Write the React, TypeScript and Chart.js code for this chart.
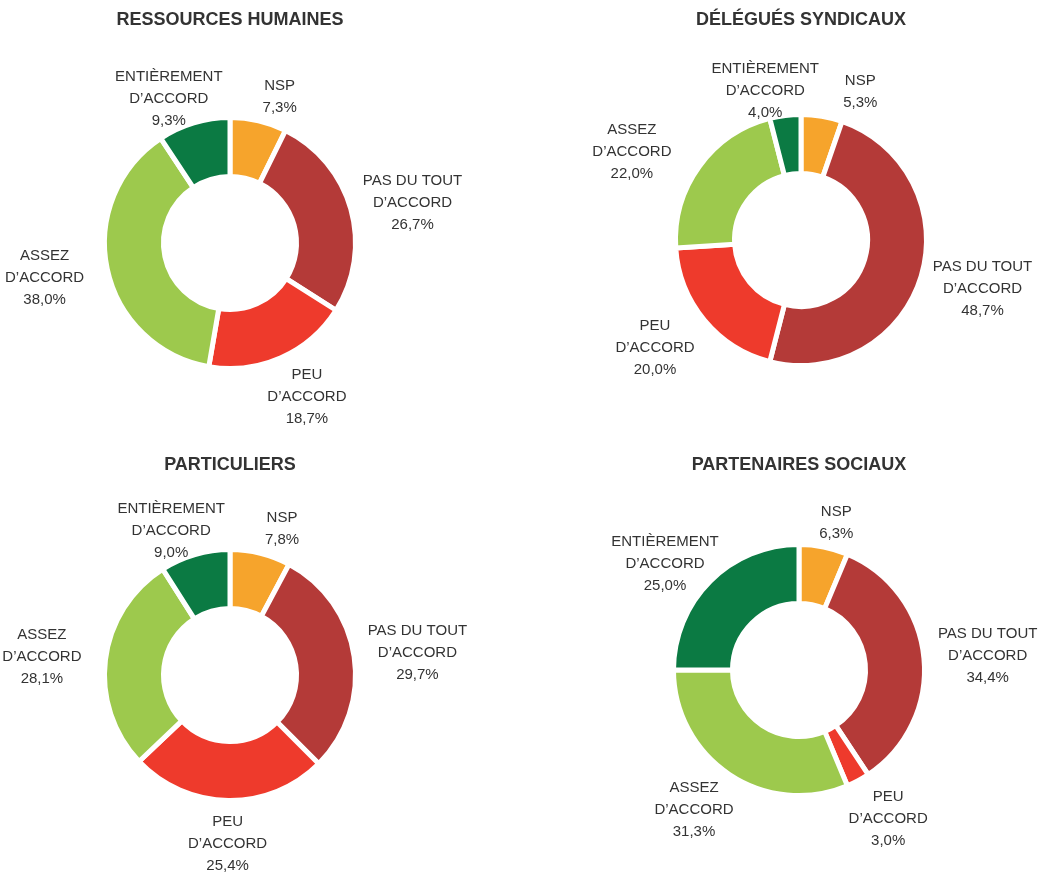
import React, { useEffect, useRef } from "react";
import { Chart, registerables } from "chart.js";

Chart.register(...registerables);

// ---- Data ----
const categories = [
  "NSP",
  "PAS DU TOUT\nD’ACCORD",
  "PEU\nD’ACCORD",
  "ASSEZ\nD’ACCORD",
  "ENTIÈREMENT\nD’ACCORD",
];
const titles = [
  "RESSOURCES HUMAINES",
  "DÉLÉGUÉS SYNDICAUX",
  "PARTICULIERS",
  "PARTENAIRES SOCIAUX",
];
const rhValues = [7.3, 26.7, 18.7, 38.0, 9.3];
const dsValues = [5.3, 48.7, 20.0, 22.0, 4.0];
const particuliersValues = [7.8, 29.7, 25.4, 28.1, 9.0];
const partenairesValues = [6.3, 34.4, 3.0, 31.3, 25.0];
const seriesList = [rhValues, dsValues, particuliersValues, partenairesValues];

// ---- Styles / layout ----
const colors = ["#F6A42C", "#B43A38", "#EE3A2C", "#9DC94D", "#0B7A43"];
const TEXT_COLOR = "#333333";
const LABEL_FONT = '15px "Liberation Sans", Arial, sans-serif';
const TITLE_FONT = 'bold 18px "Liberation Sans", Arial, sans-serif';
const LINE_H = 22;

// canvas rectangles (page px) and donut centres (page px)
const panels = [
  { left: 0, top: 0, width: 521, height: 440, cx: 230, cy: 243, titleY: 20 },
  { left: 521, top: 0, width: 522, height: 440, cx: 801, cy: 240, titleY: 20 },
  { left: 0, top: 440, width: 521, height: 433, cx: 230, cy: 675, titleY: 25 },
  { left: 521, top: 440, width: 522, height: 433, cx: 799, cy: 670, titleY: 25 },
];

const fmt = (v: number) => v.toFixed(1).replace(".", ",") + "%";

function paddingFor(p: any) {
  const lx = p.cx - p.left;
  const ly = p.cy - p.top;
  const pad = { left: 0, right: 0, top: 0, bottom: 0 };
  if (lx < p.width / 2) pad.right = p.width - 2 * lx;
  else pad.left = 2 * lx - p.width;
  if (ly < p.height / 2) pad.bottom = p.height - 2 * ly;
  else pad.top = 2 * ly - p.height;
  return pad;
}

function makeLabelPlugin(title: string, titleY: number) {
  return {
    id: "donutLabels",
    afterDraw(chart: any) {
      const ctx: CanvasRenderingContext2D = chart.ctx;
      const meta = chart.getDatasetMeta(0);
      const values: number[] = chart.data.datasets[0].data;
      const labels: string[] = chart.data.labels;
      ctx.save();
      ctx.fillStyle = TEXT_COLOR;
      ctx.textAlign = "center";
      ctx.textBaseline = "middle";

      const first = meta.data[0];
      ctx.font = TITLE_FONT;
      ctx.fillText(title, first.x, titleY);

      ctx.font = LABEL_FONT;
      const boxes: any[] = [];
      meta.data.forEach((arc: any, i: number) => {
        const lines = labels[i].split("\n").concat([fmt(values[i])]);
        const w = Math.max(...lines.map((l) => ctx.measureText(l).width));
        const h = lines.length * LINE_H;
        const mid = (arc.startAngle + arc.endAngle) / 2;
        const sy = Math.sin(mid);
        const rx = arc.outerRadius + 64;
        const ry = arc.outerRadius + (sy < 0 ? 25 : 43);
        boxes.push({
          lines,
          w,
          h,
          cx: arc.x + rx * Math.cos(mid),
          cy: arc.y + ry * sy,
        });
      });

      const MIN_GAP = 40;
      for (let a = 0; a < boxes.length; a++) {
        for (let b = a + 1; b < boxes.length; b++) {
          const A = boxes[a];
          const B = boxes[b];
          if (Math.abs(A.cy - B.cy) >= (A.h + B.h) / 2) continue;
          const gap = Math.abs(A.cx - B.cx) - (A.w + B.w) / 2;
          if (gap < MIN_GAP) {
            const shift = (MIN_GAP - gap) / 2;
            if (A.cx >= B.cx) {
              A.cx += shift;
              B.cx -= shift;
            } else {
              A.cx -= shift;
              B.cx += shift;
            }
          }
        }
      }

      boxes.forEach((bx) => {
        bx.lines.forEach((line: string, k: number) => {
          ctx.fillText(line, bx.cx, bx.cy - bx.h / 2 + LINE_H / 2 + k * LINE_H);
        });
      });
      ctx.restore();
    },
  };
}

function DonutPanel({ index }: { index: number }) {
  const ref = useRef<HTMLCanvasElement | null>(null);
  const p = panels[index];
  useEffect(() => {
    if (!ref.current) return;
    const chart = new Chart(ref.current, {
      type: "doughnut",
      data: {
        labels: categories,
        datasets: [
          {
            data: seriesList[index],
            backgroundColor: colors,
            borderColor: "#ffffff",
            borderWidth: 5,
            hoverOffset: 0,
          },
        ],
      },
      options: {
        responsive: false,
        animation: false,
        events: [],
        radius: 125.5,
        cutout: "53%",
        layout: { padding: paddingFor(p) },
        plugins: {
          legend: { display: false },
          tooltip: { enabled: false },
          title: { display: false },
        },
      } as any,
      plugins: [makeLabelPlugin(titles[index], p.titleY)],
    });
    return () => chart.destroy();
  }, [index]);
  return (
    <canvas
      ref={ref}
      width={p.width}
      height={p.height}
      style={{
        position: "absolute",
        left: p.left,
        top: p.top,
        width: p.width,
        height: p.height,
        display: "block",
      }}
    />
  );
}

export default function App() {
  return (
    <div
      style={{
        position: "absolute",
        left: 0,
        top: 0,
        width: 1043,
        height: 873,
        background: "#ffffff",
        overflow: "hidden",
      }}
    >
      {seriesList.map((_, i) => (
        <DonutPanel key={i} index={i} />
      ))}
    </div>
  );
}
